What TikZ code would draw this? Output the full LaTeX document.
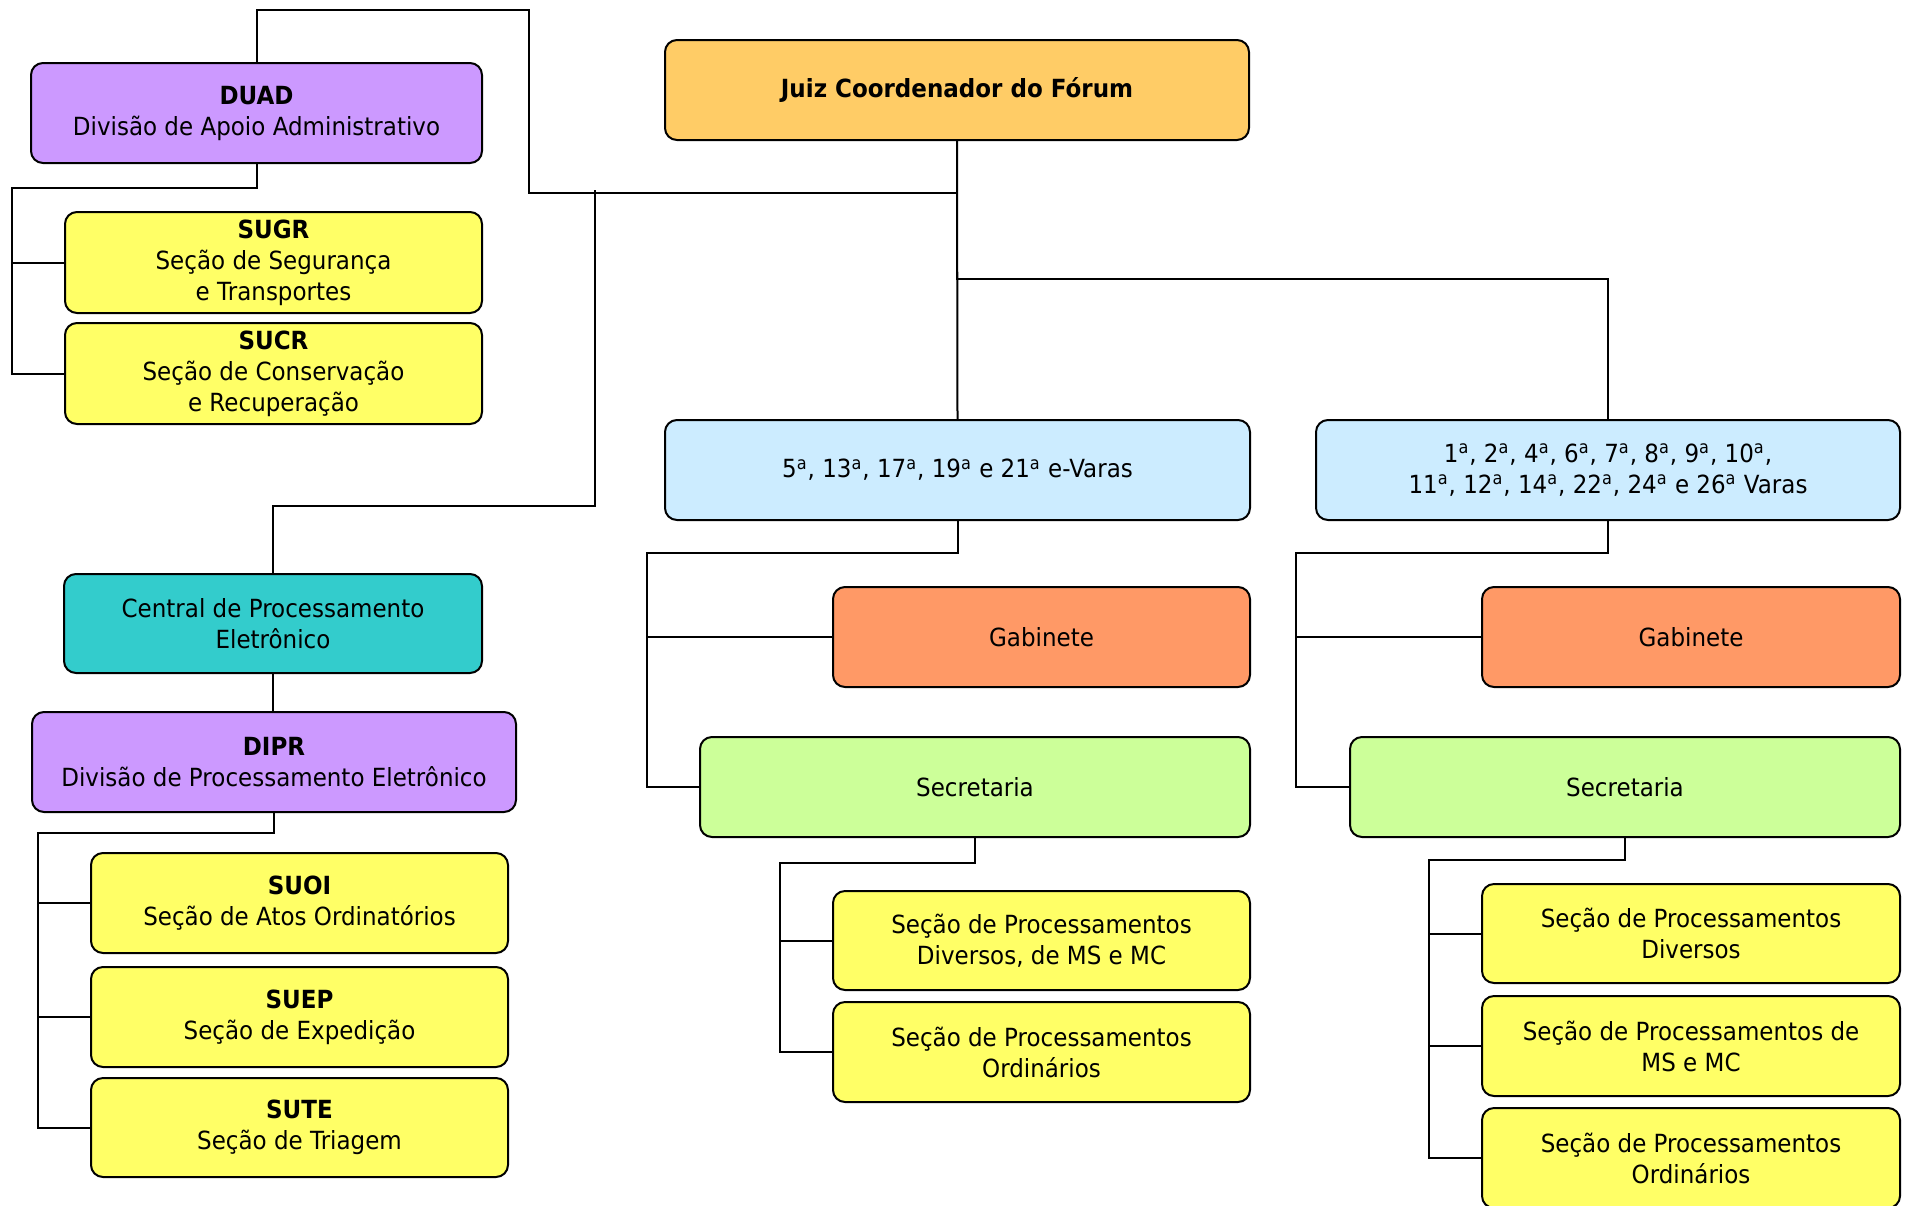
\documentclass[tikz,border=0pt]{standalone}
\usepackage{fontspec}
\setmainfont{DejaVu Sans}[FakeStretch=0.92]
\definecolor{cpurple}{HTML}{CC99FF}
\definecolor{cyellow}{HTML}{FFFF66}
\definecolor{corange}{HTML}{FFCC66}
\definecolor{cblue}{HTML}{CCECFF}
\definecolor{csalmon}{HTML}{FF9966}
\definecolor{cgreen}{HTML}{CCFF99}
\definecolor{cteal}{HTML}{33CCCC}
\newcommand\oa{\textsuperscript{a}}
\tikzset{
  box/.style={draw, line width=1pt, rounded corners=6pt, align=center, inner sep=0pt,
    font=\fontsize{12.5}{15.5}\selectfont},
  conn/.style={line width=1pt}
}
\newcommand\bx[7]{\node[box, fill=#6, minimum width={(#4-#2)*0.5pt}, minimum height={(#5-#3)*0.5pt}] (#1) at ({(#2+#4)/2},{(#3+#5)/2}) {#7};}
\begin{document}
\begin{tikzpicture}[x=0.5pt,y=-0.5pt]
\useasboundingbox (0,0) rectangle (1910,1205);
% boxes
\bx{DUAD}{31}{63}{482}{163}{cpurple}{\textbf{DUAD}\\Divisão de Apoio Administrativo}
\bx{SUGR}{65}{212}{482}{313}{cyellow}{\textbf{SUGR}\\Seção de Segurança\\e Transportes}
\bx{SUCR}{65}{323}{482}{424}{cyellow}{\textbf{SUCR}\\Seção de Conservação\\e Recuperação}
\bx{Central}{64}{574}{482}{673}{cteal}{Central de Processamento\\Eletrônico}
\bx{DIPR}{32}{712}{516}{812}{cpurple}{\textbf{DIPR}\\Divisão de Processamento Eletrônico}
\bx{SUOI}{91}{853}{508}{953}{cyellow}{\textbf{SUOI}\\Seção de Atos Ordinatórios}
\bx{SUEP}{91}{967}{508}{1067}{cyellow}{\textbf{SUEP}\\Seção de Expedição}
\bx{SUTE}{91}{1078}{508}{1177}{cyellow}{\textbf{SUTE}\\Seção de Triagem}
\bx{Juiz}{665}{40}{1249}{140}{corange}{\textbf{Juiz Coordenador do Fórum}}
\bx{eVaras}{665}{420}{1250}{520}{cblue}{5\oa, 13\oa, 17\oa, 19\oa{} e 21\oa{} e-Varas}
\bx{GabL}{833}{587}{1250}{687}{csalmon}{Gabinete}
\bx{SecL}{700}{737}{1250}{837}{cgreen}{Secretaria}
\bx{SPDL}{833}{891}{1250}{990}{cyellow}{Seção de Processamentos\\Diversos, de MS e MC}
\bx{SPOL}{833}{1002}{1250}{1102}{cyellow}{Seção de Processamentos\\Ordinários}
\bx{Varas}{1316}{420}{1900}{520}{cblue}{1\oa, 2\oa, 4\oa, 6\oa, 7\oa, 8\oa, 9\oa, 10\oa,\\11\oa, 12\oa, 14\oa, 22\oa, 24\oa{} e 26\oa{} Varas}
\bx{GabR}{1482}{587}{1900}{687}{csalmon}{Gabinete}
\bx{SecR}{1350}{737}{1900}{837}{cgreen}{Secretaria}
\bx{RA}{1482}{884}{1900}{983}{cyellow}{Seção de Processamentos\\Diversos}
\bx{RB}{1482}{996}{1900}{1096}{cyellow}{Seção de Processamentos de\\MS e MC}
\bx{RC}{1482}{1108}{1900}{1208}{cyellow}{Seção de Processamentos\\Ordinários}
% connectors
\draw[conn] (Juiz.south) -- (eVaras.north);
\coordinate (j2) at (957,279);
\draw[conn] (Juiz.south) -- (j2) -| (Varas.north);
\coordinate (k1) at (529,10);
\coordinate (k2) at (529,193);
\draw[conn] (DUAD.north) |- (k1) -- (k2) -- (k2 -| Juiz.south);
\coordinate (c1) at (595,190);
\coordinate (c2) at (595,506);
\draw[conn] (c1) -- (c2) -| (Central.north);
\coordinate (d1) at (12,188);
\draw[conn] (DUAD.south) |- (d1) |- (SUCR.west);
\draw[conn] (d1 |- SUGR.west) -- (SUGR.west);
\draw[conn] (Central.south) -- (Central.south |- DIPR.north);
\coordinate (p1) at (38,833);
\draw[conn] (DIPR.south) |- (p1) |- (SUTE.west);
\draw[conn] (p1 |- SUOI.west) -- (SUOI.west);
\draw[conn] (p1 |- SUEP.west) -- (SUEP.west);
\coordinate (e1) at (646.5,553);
\draw[conn] (eVaras.south) |- (e1) |- (SecL.west);
\draw[conn] (e1 |- GabL.west) -- (GabL.west);
\coordinate (s1) at (779.5,863);
\draw[conn] (SecL.south) |- (s1) |- (SPOL.west);
\draw[conn] (s1 |- SPDL.west) -- (SPDL.west);
\coordinate (v1) at (1296,553);
\draw[conn] (Varas.south) |- (v1) |- (SecR.west);
\draw[conn] (v1 |- GabR.west) -- (GabR.west);
\coordinate (r1) at (1429,860);
\draw[conn] (SecR.south) |- (r1) |- (RC.west);
\draw[conn] (r1 |- RA.west) -- (RA.west);
\draw[conn] (r1 |- RB.west) -- (RB.west);
\end{tikzpicture}
\end{document}
